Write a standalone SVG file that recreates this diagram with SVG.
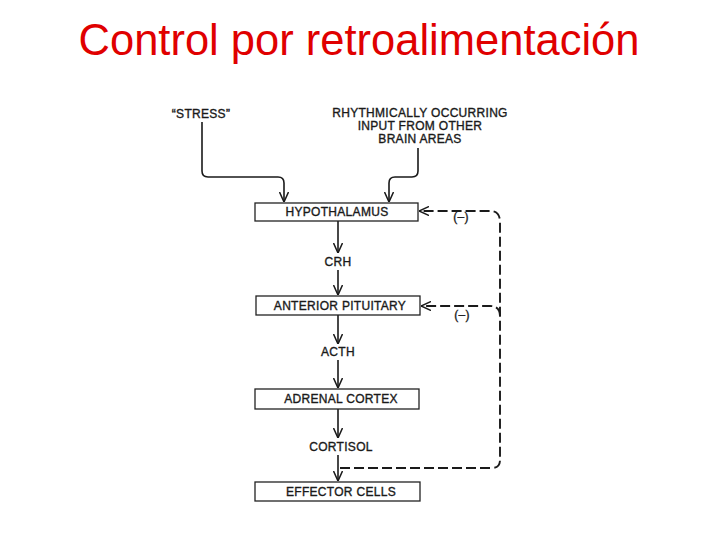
<svg xmlns="http://www.w3.org/2000/svg" width="720" height="540" viewBox="0 0 720 540">
<style>
.box{fill:#fff;stroke:#222;stroke-width:1.3}
.lbl{font-family:"Liberation Sans",Arial,sans-serif;font-size:12px;fill:#1a1a1a;stroke:#1a1a1a;stroke-width:0.35;text-anchor:middle;letter-spacing:0.3px}
.ln{fill:none;stroke:#1a1a1a;stroke-width:1.6}
.dash{fill:none;stroke:#1a1a1a;stroke-width:1.9;stroke-dasharray:10 4}
</style>
<defs>
<marker id="v" viewBox="0 0 10 10" refX="10" refY="5" markerWidth="10" markerHeight="10" markerUnits="userSpaceOnUse" orient="auto">
<polyline points="0,0.5 10,5 0,9.5" fill="none" stroke="#1a1a1a" stroke-width="1.5"/>
</marker>
</defs>
<rect width="720" height="540" fill="#fff"/>
<text x="359" y="55" font-family="Liberation Sans,Arial,sans-serif" font-size="43.5" fill="#e00000" text-anchor="middle">Control por retroalimentación</text>

<g id="connectors">
<path class="ln" d="M202,122 V171 Q202,177 208,177 H278 Q284,177 284,183 V202" marker-end="url(#v)"/>
<path class="ln" d="M418,148 V171 Q418,177 412,177 H395 Q389,177 389,183 V202" marker-end="url(#v)"/>
<path class="ln" d="M338,221 V253" marker-end="url(#v)"/>
<path class="ln" d="M338,270 V295" marker-end="url(#v)"/>
<path class="ln" d="M338,315 V344" marker-end="url(#v)"/>
<path class="ln" d="M338,360 V388" marker-end="url(#v)"/>
<path class="ln" d="M338,409 V438" marker-end="url(#v)"/>
<path class="ln" d="M338,455 V481" marker-end="url(#v)"/>
<path class="dash" d="M340,468 H492 Q500,468 500,460 V222 Q500,211 490,211 H419" marker-end="url(#v)"/>
<path class="dash" d="M500,316 Q500,306 490,306 H421" marker-end="url(#v)"/>
<text class="lbl" x="461" y="221">(–)</text>
<text class="lbl" x="462" y="319">(–)</text>
</g>

<g id="stress"><text class="lbl" x="201" y="118">“STRESS”</text></g>
<g id="rhythmic">
<text class="lbl" x="420" y="117">RHYTHMICALLY OCCURRING</text>
<text class="lbl" x="420" y="130">INPUT FROM OTHER</text>
<text class="lbl" x="420" y="143">BRAIN AREAS</text>
</g>
<g id="hypothalamus"><rect class="box" x="255" y="203" width="163" height="18"/><text class="lbl" x="337" y="216">HYPOTHALAMUS</text></g>
<g id="crh"><text class="lbl" x="338" y="266">CRH</text></g>
<g id="pituitary"><rect class="box" x="256" y="296" width="164" height="19"/><text class="lbl" x="340" y="310">ANTERIOR PITUITARY</text></g>
<g id="acth"><text class="lbl" x="338" y="356">ACTH</text></g>
<g id="adrenal"><rect class="box" x="255" y="389" width="164" height="20"/><text class="lbl" x="341" y="403">ADRENAL CORTEX</text></g>
<g id="cortisol"><text class="lbl" x="341" y="451">CORTISOL</text></g>
<g id="effector"><rect class="box" x="255" y="482" width="165" height="19"/><text class="lbl" x="341" y="496">EFFECTOR CELLS</text></g>
</svg>
